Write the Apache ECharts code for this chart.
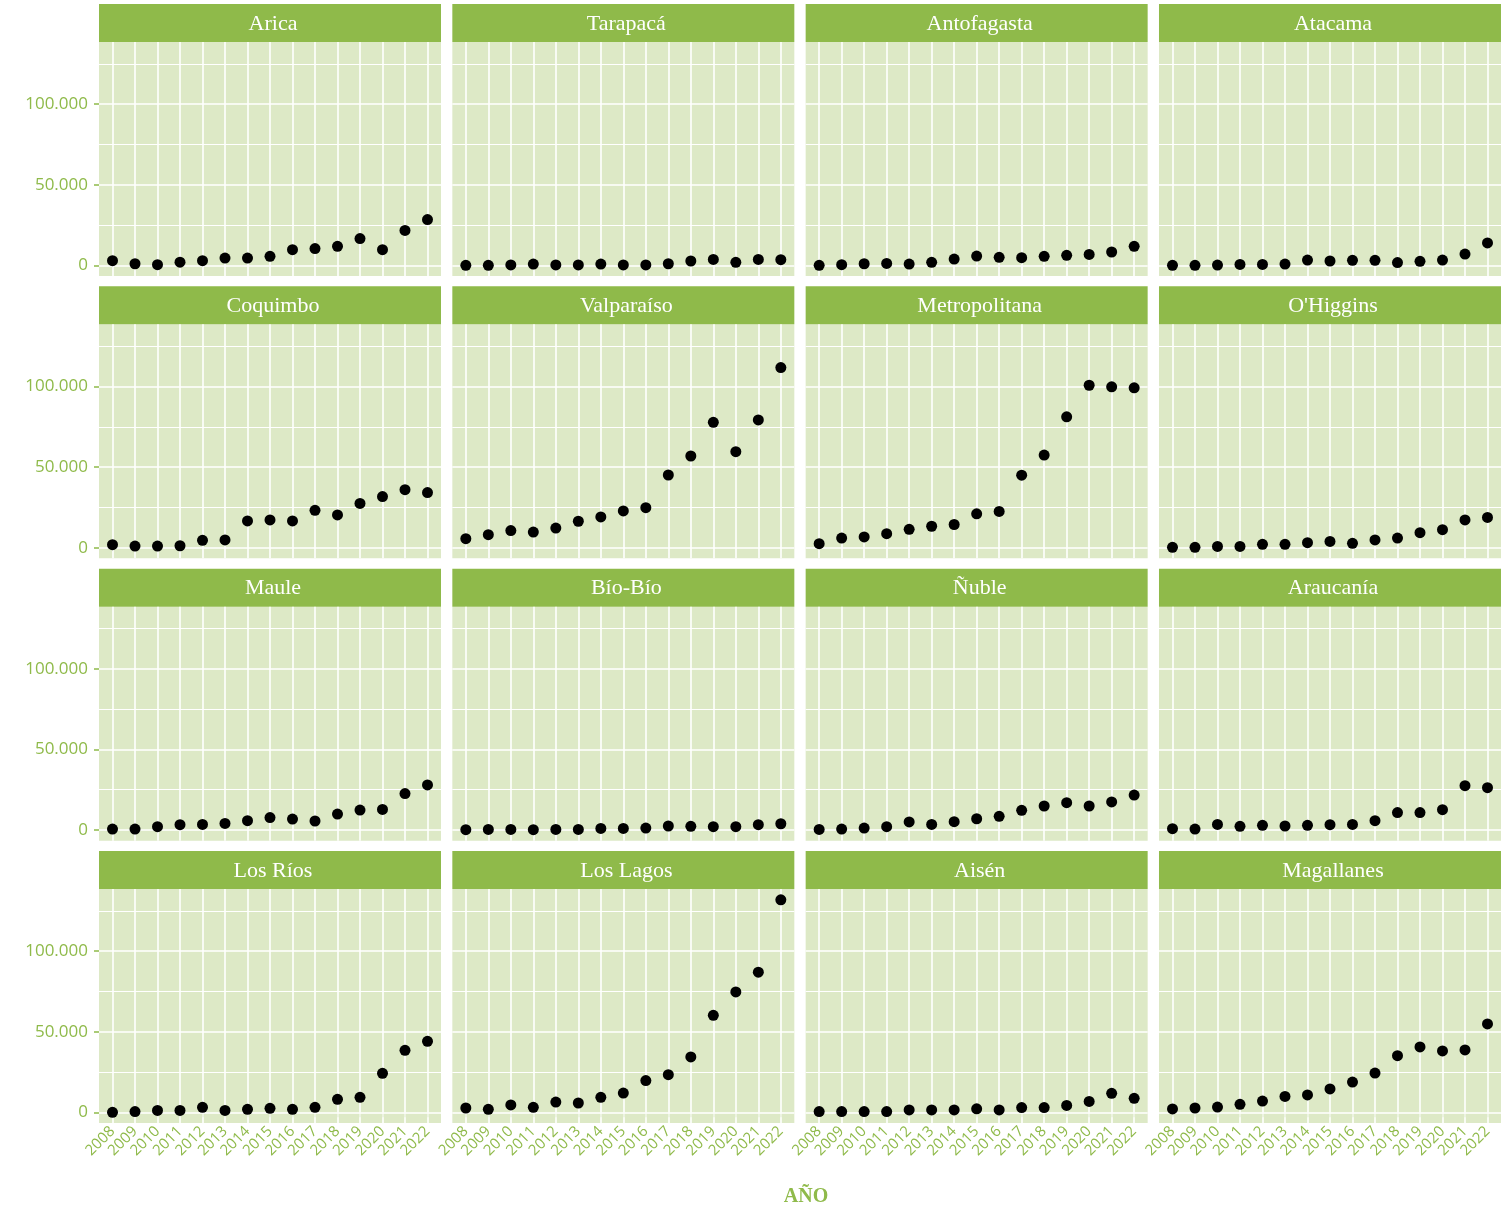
<!DOCTYPE html>
<html>
<head>
<meta charset="utf-8">
<title>Regiones 2008-2022</title>
<script src="https://cdn.jsdelivr.net/npm/echarts@6/dist/echarts.min.js"></script>
<style>
  html, body { margin: 0; padding: 0; background: #ffffff; }
  #chart { width: 1507px; height: 1209px; }
</style>
</head>
<body>
<div id="chart"></div>
<script>
// Years on the x axis
const years = [2008, 2009, 2010, 2011, 2012, 2013, 2014, 2015, 2016, 2017, 2018, 2019, 2020, 2021, 2022];

// Yearly values per region
const arica         = [2900, 1000, 400, 2000, 2900, 4500, 4500, 5600, 9700, 10400, 11800, 16600, 9700, 21700, 28400];
const tarapaca      = [0, 0, 300, 800, 300, 300, 800, 300, 300, 1000, 2700, 3700, 1900, 3700, 3500];
const antofagasta   = [0, 400, 1000, 1200, 800, 1900, 3900, 5800, 5000, 4800, 5600, 6200, 6800, 8300, 11800];
const atacama       = [0, 0, 200, 600, 600, 800, 3300, 2700, 3100, 3100, 1700, 2500, 3300, 7000, 13900];
const coquimbo      = [1900, 1000, 1000, 1200, 4600, 4800, 16600, 17200, 16600, 23200, 20300, 27500, 31700, 36000, 34200];
const valparaiso    = [5600, 8100, 10600, 9700, 12200, 16400, 19100, 22800, 24800, 45100, 56900, 77800, 59600, 79300, 111800];
const metropolitana = [2500, 6000, 6700, 8700, 11400, 13300, 14400, 21000, 22500, 45000, 57500, 81200, 100800, 99800, 99200];
const ohiggins      = [200, 200, 800, 800, 2100, 2100, 3100, 3900, 2700, 4800, 6000, 9300, 11200, 17200, 18800];
const maule         = [600, 600, 2100, 3300, 3500, 4100, 5800, 7700, 6800, 5600, 9900, 12400, 12800, 22600, 28000];
const biobio        = [200, 400, 400, 200, 400, 400, 1000, 1000, 1200, 2500, 2300, 2100, 2100, 3300, 3900];
const nuble         = [400, 600, 1200, 2100, 5000, 3500, 5200, 7000, 8500, 12200, 14900, 17000, 14900, 17400, 21700];
const araucania     = [800, 600, 3500, 2300, 2900, 2500, 2900, 3300, 3500, 5800, 10800, 10800, 12600, 27500, 26300];
const losRios       = [0, 500, 1200, 1200, 3100, 1200, 1900, 2500, 1900, 3100, 8100, 9300, 24200, 38500, 44100];
const losLagos      = [2700, 1900, 4600, 3100, 6400, 5800, 9300, 12000, 19700, 23400, 34400, 60200, 74700, 87000, 131900];
const aisen         = [500, 500, 500, 500, 1500, 1500, 1500, 2200, 1500, 3000, 3000, 4300, 6800, 11800, 8700];
const magallanes    = [2100, 2700, 3300, 5000, 7000, 9900, 10800, 14500, 18800, 24400, 35200, 40600, 38100, 38700, 54900];

// Panel titles and their series, in reading order
const regionNames = ['Arica', 'Tarapacá', 'Antofagasta', 'Atacama',
                     'Coquimbo', 'Valparaíso', 'Metropolitana', "O'Higgins",
                     'Maule', 'Bío-Bío', 'Ñuble', 'Araucanía',
                     'Los Ríos', 'Los Lagos', 'Aisén', 'Magallanes'];
const regionValues = [arica, tarapaca, antofagasta, atacama,
                      coquimbo, valparaiso, metropolitana, ohiggins,
                      maule, biobio, nuble, araucania,
                      losRios, losLagos, aisen, magallanes];

// Y axis breaks
const yMajorTicks = [0, 50000, 100000];
const yMinorTicks = [25000, 75000, 125000];
const xTitle = 'AÑO';

// Styling
const GREEN = '#8fba4a';
const PANEL_BG = '#dde9c6';
const TICK_FONT = '"Open Sans"';
const NCOL = 4;
const LEFT0 = 99, COL_STEP = 353.33, PANEL_W = 342;
const TOP0 = 42, ROW_STEP = 282.33, PANEL_H = 234, STRIP_H = 38;
const Y_MIN = -6600, Y_MAX = 138600;
const X_MIN = 2007.4, X_MAX = 2022.6;

function thousands(v) {
  return String(Math.round(v)).replace(/\B(?=(\d{3})+(?!\d))/g, '.');
}

const grids = [], xAxes = [], yAxes = [], series = [], graphics = [];
const nRows = Math.ceil(regionNames.length / NCOL);

regionNames.forEach(function (name, k) {
  const col = k % NCOL, row = Math.floor(k / NCOL);
  const left = LEFT0 + col * COL_STEP;
  const top = TOP0 + row * ROW_STEP;
  const isLeft = col === 0;
  const isBottom = row === nRows - 1;

  grids.push({
    left: left, top: top, width: PANEL_W, height: PANEL_H,
    show: true, backgroundColor: PANEL_BG, borderWidth: 0
  });

  xAxes.push({
    type: 'value', gridIndex: k, min: X_MIN, max: X_MAX,
    axisLine: { show: false },
    splitLine: { show: false },
    axisTick: { show: isBottom, customValues: years, length: 5,
                lineStyle: { color: GREEN, width: 1.5 } },
    axisLabel: { show: isBottom, customValues: years, rotate: 45, margin: 6,
                 color: GREEN, fontSize: 15, fontFamily: TICK_FONT,
                 formatter: function (v) { return String(v); } }
  });

  yAxes.push({
    type: 'value', gridIndex: k, min: Y_MIN, max: Y_MAX,
    axisLine: { show: false },
    splitLine: { show: false },
    axisTick: { show: isLeft, customValues: yMajorTicks, length: 5,
                lineStyle: { color: GREEN, width: 1.5 } },
    axisLabel: { show: isLeft, customValues: yMajorTicks, margin: 11,
                 color: GREEN, fontSize: 17, fontFamily: TICK_FONT,
                 formatter: thousands }
  });

  // Panel grid lines, drawn beneath the points
  const gridLines = [];
  yMajorTicks.forEach(function (v) { gridLines.push({ yAxis: v, lineStyle: { width: 1.6 } }); });
  yMinorTicks.forEach(function (v) { gridLines.push({ yAxis: v, lineStyle: { width: 1 } }); });
  years.forEach(function (y) { gridLines.push({ xAxis: y, lineStyle: { width: 1.6 } }); });

  series.push({
    type: 'scatter', name: name, xAxisIndex: k, yAxisIndex: k, z: 3,
    symbolSize: 11,
    itemStyle: { color: '#000000', opacity: 1 },
    data: years.map(function (y, i) { return [y, regionValues[k][i]]; }),
    markLine: {
      silent: true, z: 1, animation: false,
      symbol: ['none', 'none'],
      label: { show: false },
      emphasis: { disabled: true },
      lineStyle: { color: '#ffffff', type: 'solid', width: 1.5 },
      data: gridLines
    }
  });

  // Facet strip with the region name
  graphics.push({
    type: 'rect', silent: true,
    shape: { x: left, y: top - STRIP_H, width: PANEL_W, height: STRIP_H },
    style: { fill: GREEN }
  });
  graphics.push({
    type: 'text', silent: true,
    x: left + PANEL_W / 2 + 3, y: top - STRIP_H / 2 + 1,
    style: { text: name, fill: '#ffffff', font: '22px "Liberation Serif"',
             align: 'center', verticalAlign: 'middle' }
  });
});

// Shared x axis title
graphics.push({
  type: 'text', silent: true,
  x: LEFT0 + (COL_STEP * (NCOL - 1) + PANEL_W) / 2 + 6, y: 1197,
  style: { text: xTitle, fill: GREEN, font: 'bold 20px "Liberation Serif"',
           align: 'center', verticalAlign: 'middle' }
});

const chart = echarts.init(document.getElementById('chart'), null, { renderer: 'canvas' });
chart.setOption({
  animation: false,
  backgroundColor: '#ffffff',
  grid: grids,
  xAxis: xAxes,
  yAxis: yAxes,
  series: series,
  graphic: graphics
});
</script>
</body>
</html>
